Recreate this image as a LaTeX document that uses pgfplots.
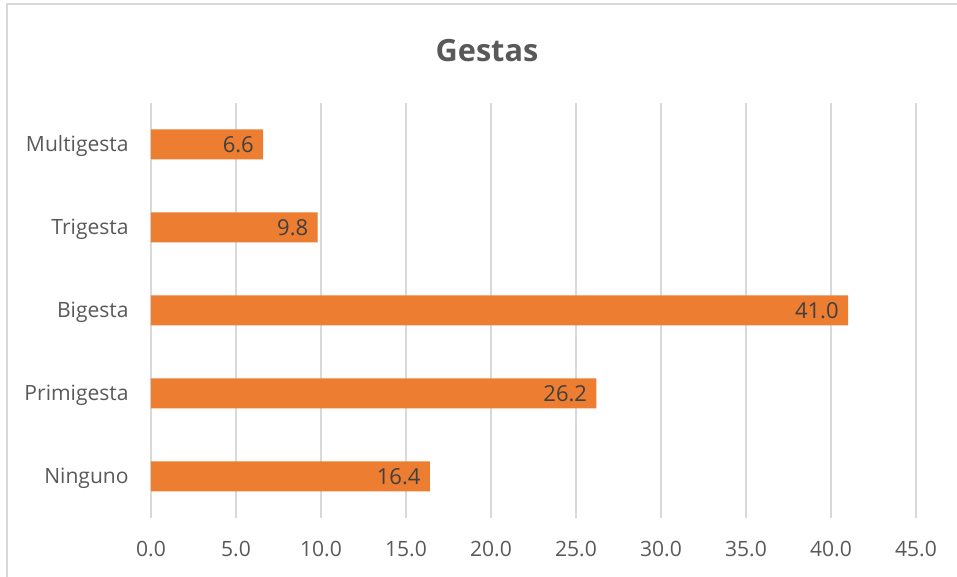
\documentclass[border=0pt]{standalone}
\usepackage{fontspec}
\setmainfont{Open Sans}
\usepackage{pgfplots}
\pgfplotsset{compat=1.18}
\definecolor{barorange}{HTML}{ED7D31}
\definecolor{gridgray}{HTML}{D9D9D9}
\definecolor{labelgray}{HTML}{595959}
\definecolor{valuegray}{HTML}{404040}
\begin{document}
\begin{tikzpicture}[x=0.75pt,y=0.75pt]
\useasboundingbox (0,0) rectangle (957,577);
% chart frame
\draw[gridgray, line width=1.2pt] (7,-20) -- (7,573) -- (980,573);
\node[font=\bfseries\fontsize{23}{27}\selectfont, text=labelgray] at (487,526) {Gestas};
\begin{axis}[
  at={(113.25pt,44.25pt)}, anchor=south west,
  scale only axis,
  width=573.75pt, height=311.25pt,
  xbar, bar width=22.5pt,
  xmin=0, xmax=45,
  ymin=-0.5, ymax=4.5,
  xtick={0,5,...,45},
  ytick={0,1,2,3,4},
  yticklabels={Ninguno,Primigesta,Bigesta,Trigesta,Multigesta},
  xmajorgrids,
  grid style={gridgray, line width=0.9pt},
  axis line style={draw=none},
  tick style={draw=none},
  /pgf/number format/assume math mode=true,
  /pgf/number format/fixed, /pgf/number format/fixed zerofill,
  /pgf/number format/precision=1,
  ticklabel style={font=\fontsize{15.8}{19}\selectfont, text=labelgray},
  xticklabel style={yshift=-14pt},
  yticklabel style={xshift=-9pt, yshift=-1.5pt},
  nodes near coords,
  point meta=explicit,
  every node near coord/.append style={anchor=east, xshift=-3.5pt, yshift=-0.5pt,
    font=\fontsize{16.5}{19}\selectfont, text=valuegray},
]
\addplot[fill=barorange, draw=none] coordinates {
  (16.4,0) [16.4]
  (26.2,1) [26.2]
  (41.0,2) [41.0]
  (9.8,3)  [9.8]
  (6.6,4)  [6.6]
};
\end{axis}
\end{tikzpicture}
\end{document}
